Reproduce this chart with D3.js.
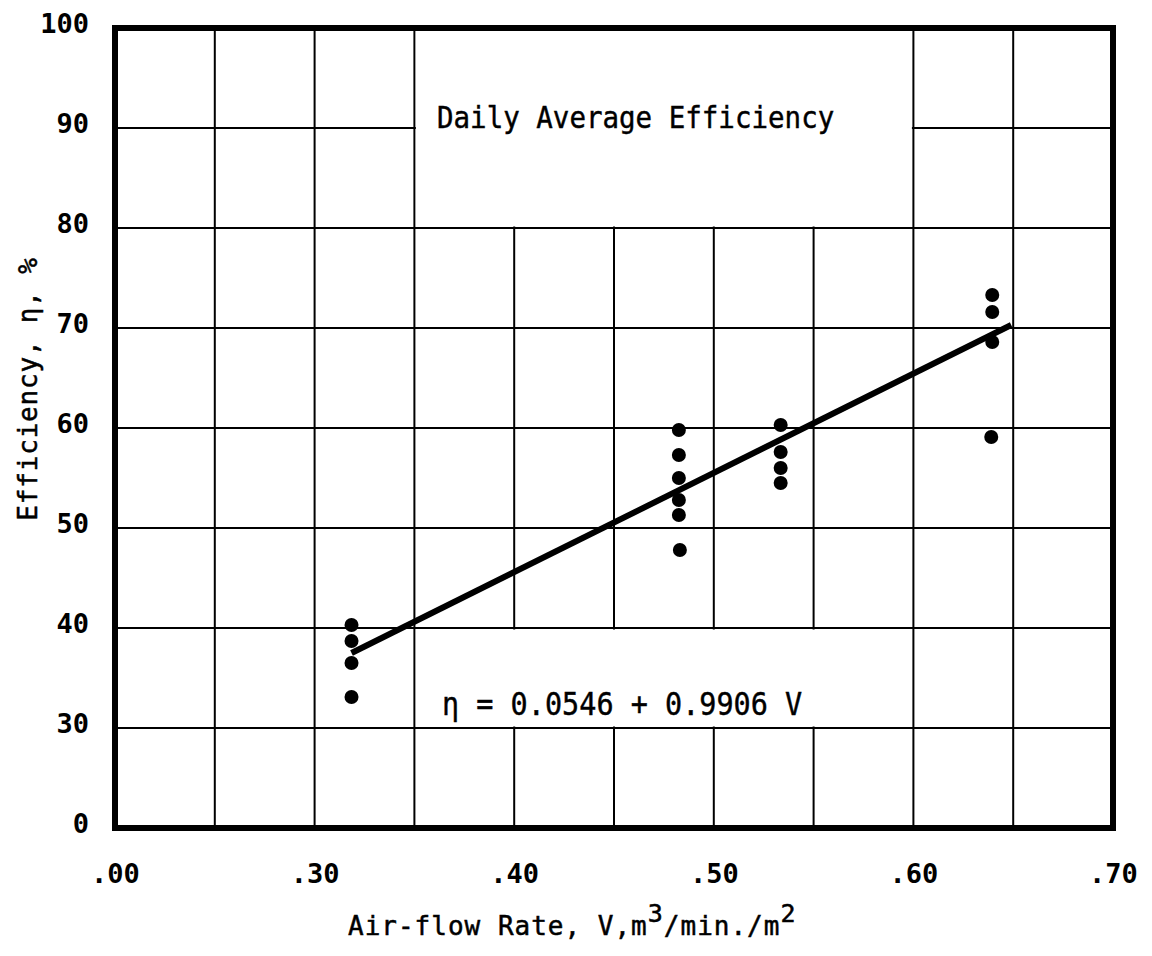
<!DOCTYPE html>
<html>
<head>
<meta charset="utf-8">
<script src="https://cdn.jsdelivr.net/npm/d3@7"></script>
<style>
  html, body { margin: 0; padding: 0; background: #fff; }
  svg { display: block; }
  text { font-family: "DejaVu Sans Mono", "Liberation Mono", monospace; fill: #000; }
</style>
</head>
<body>
<svg id="chart" width="1152" height="956"></svg>
<script>
// ---- data ----
const xTickValues = [0.20, 0.30, 0.40, 0.50, 0.60, 0.70];
const xTickLabels = [".00", ".30", ".40", ".50", ".60", ".70"];
const xGridValues = [0.25, 0.30, 0.35, 0.40, 0.45, 0.50, 0.55, 0.60, 0.65];
const yTickValues = [20, 30, 40, 50, 60, 70, 80, 90, 100];
const yTickLabels = ["0", "30", "40", "50", "60", "70", "80", "90", "100"];
const yGridValues = [30, 40, 50, 60, 70, 80, 90];

const airflow    = [0.3185, 0.3185, 0.3185, 0.3185,
                    0.4825, 0.4825, 0.4825, 0.4825, 0.4825, 0.4830,
                    0.5335, 0.5335, 0.5335, 0.5335,
                    0.6395, 0.6395, 0.6395, 0.6390];
const efficiency = [40.3, 38.7, 36.5, 33.1,
                    59.8, 57.3, 55.0, 52.8, 51.3, 47.8,
                    60.3, 57.6, 56.0, 54.5,
                    73.3, 71.6, 68.6, 59.1];

const fitX = [0.3185, 0.649];
const fitY = [37.5, 70.3];

const titleText = "Daily Average Efficiency";
const equationText = "\u03B7 = 0.0546 + 0.9906 V";

// ---- layout ----
const svg = d3.select("#chart");
const x = d3.scaleLinear().domain([0.2, 0.7]).range([115, 1113]);
const y = d3.scaleLinear().domain([20, 100]).range([828, 28]);

// gridlines
const grid = svg.append("g").attr("stroke", "#000").attr("stroke-width", 2);
grid.selectAll("line.v").data(xGridValues).join("line")
  .attr("class", "v")
  .attr("x1", d => x(d)).attr("x2", d => x(d))
  .attr("y1", y(100)).attr("y2", y(20));
grid.selectAll("line.h").data(yGridValues).join("line")
  .attr("class", "h")
  .attr("x1", x(0.2)).attr("x2", x(0.7))
  .attr("y1", d => y(d)).attr("y2", d => y(d));

// white label boxes that interrupt the grid
const boxes = [
  {x0: 0.35, x1: 0.60, y0: 80, y1: 100},
  {x0: 0.35, x1: 0.60, y0: 30, y1: 40}
];
svg.append("g").selectAll("rect").data(boxes).join("rect")
  .attr("x", d => x(d.x0) + 1.5)
  .attr("width", d => x(d.x1) - x(d.x0) - 3)
  .attr("y", d => y(d.y1) + 1.5)
  .attr("height", d => y(d.y0) - y(d.y1) - 3)
  .attr("fill", "#fff");

// frame
svg.append("rect")
  .attr("x", x(0.2)).attr("y", y(100))
  .attr("width", x(0.7) - x(0.2)).attr("height", y(20) - y(100))
  .attr("fill", "none").attr("stroke", "#000").attr("stroke-width", 6);

// axes (labels only)
const xAxis = d3.axisBottom(x).tickValues(xTickValues)
  .tickFormat((d, i) => xTickLabels[i]).tickSize(0).tickPadding(0);
const gx = svg.append("g").attr("transform", `translate(0, 883)`).call(xAxis);
gx.select(".domain").remove();
gx.selectAll("text").attr("dy", 0).attr("y", 0)
  .style("font-size", "27px").style("font-weight", "bold")
  .style("font-family", '"DejaVu Sans Mono", monospace');

const yAxis = d3.axisLeft(y).tickValues(yTickValues)
  .tickFormat((d, i) => yTickLabels[i]).tickSize(0).tickPadding(0);
const gy = svg.append("g").attr("transform", `translate(89, 0)`).call(yAxis);
gy.select(".domain").remove();
gy.selectAll("text").attr("dy", "0.32em").attr("x", 0).attr("y", -4)
  .style("font-size", "27px").style("font-weight", "bold")
  .style("font-family", '"DejaVu Sans Mono", monospace');

// fit line
const line = d3.line().x(d => x(d[0])).y(d => y(d[1]));
svg.append("path")
  .datum(fitX.map((v, i) => [v, fitY[i]]))
  .attr("d", line)
  .attr("fill", "none").attr("stroke", "#000").attr("stroke-width", 6)
  .attr("stroke-linecap", "butt");

// points
svg.append("g").selectAll("circle")
  .data(airflow.map((v, i) => [v, efficiency[i]]))
  .join("circle")
  .attr("cx", d => x(d[0])).attr("cy", d => y(d[1]))
  .attr("r", 7).attr("fill", "#000");

// annotations
svg.append("text").attr("transform", "translate(437,128) scale(1,1.12)")
  .style("font-size", "27.5px").style("stroke", "#000").style("stroke-width", 0.4)
  .text(titleText);
svg.append("text").attr("transform", "translate(442,715) scale(1,1.12)")
  .style("font-size", "28.5px").style("stroke", "#000").style("stroke-width", 0.4)
  .text(equationText);

// axis titles
const xt = svg.append("text").attr("x", 348).attr("y", 935)
  .style("font-size", "26px").style("letter-spacing", "1px")
  .style("stroke", "#000").style("stroke-width", 0.5);
xt.append("tspan").text("Air-flow Rate, V,m");
xt.append("tspan").attr("dy", -13).style("font-size", "25px").text("3");
xt.append("tspan").attr("dy", 13).text("/min./m");
xt.append("tspan").attr("dy", -13).style("font-size", "25px").text("2");

svg.append("text")
  .attr("transform", "translate(37, 389) rotate(-90)")
  .attr("text-anchor", "middle")
  .style("font-size", "26px").style("letter-spacing", "0.8px")
  .style("stroke", "#000").style("stroke-width", 0.5)
  .text("Efficiency, \u03B7, %");
</script>
</body>
</html>
